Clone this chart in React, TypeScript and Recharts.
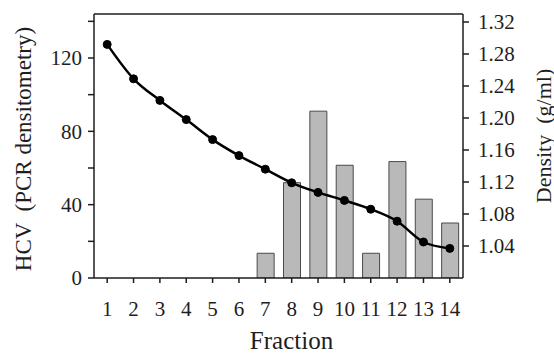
import React from 'react';
import {
  ComposedChart,
  Bar,
  Line,
  XAxis,
  YAxis,
  ReferenceLine,
  Label,
} from 'recharts';

// values
const fractions = [1, 2, 3, 4, 5, 6, 7, 8, 9, 10, 11, 12, 13, 14];
const hcvValues = [null, null, null, null, null, null, 13.5, 52, 91, 61.5, 13.5, 63.5, 43, 30];
const densityValues = [
  1.292, 1.249, 1.222, 1.198, 1.173, 1.153, 1.136, 1.119, 1.107, 1.097, 1.086, 1.071, 1.045, 1.037,
];
const hcvTicks = [0, 20, 40, 60, 80, 100, 120, 140];
const hcvLabelled = [0, 40, 80, 120];
const densityTicks = [1.04, 1.08, 1.12, 1.16, 1.2, 1.24, 1.28, 1.32];

const data = fractions.map((f, i) => ({
  fraction: f,
  hcv: hcvValues[i],
  density: densityValues[i],
}));

const ink = '#1e1e1e';
const serif = 'Liberation Serif, DejaVu Serif, serif';

const tickStyle = { fill: ink, fontSize: 21, fontFamily: serif, style: { fontFamily: serif } };

const titleStyle = (size: number): React.CSSProperties => ({
  fontFamily: serif,
  fontSize: size,
  whiteSpace: 'pre',
});

const leftTitle = (props: any) => {
  const vb = props.viewBox || { x: 0, y: 14, width: 94, height: 264 };
  const x = vb.x + 23;
  const y = vb.y + vb.height / 2 + 3;
  return (
    <text
      x={x}
      y={y}
      transform={`rotate(-90, ${x}, ${y})`}
      textAnchor="middle"
      dominantBaseline="central"
      fill={ink}
      style={titleStyle(23)}
    >
      {'HCV  (PCR densitometry)'}
    </text>
  );
};

const rightTitle = (props: any) => {
  const vb = props.viewBox || { x: 463, y: 14, width: 91, height: 264 };
  const x = vb.x + 80;
  const y = vb.y + vb.height / 2 - 10;
  return (
    <text
      x={x}
      y={y}
      transform={`rotate(-90, ${x}, ${y})`}
      textAnchor="middle"
      dominantBaseline="central"
      fill={ink}
      style={titleStyle(22)}
    >
      {'Density  (g/ml)'}
    </text>
  );
};

const bottomTitle = (props: any) => {
  const vb = props.viewBox || { x: 94, y: 278, width: 369, height: 77 };
  return (
    <text
      x={vb.x + vb.width / 2 + 13}
      y={vb.y + 71}
      textAnchor="middle"
      fill={ink}
      style={titleStyle(25)}
    >
      Fraction
    </text>
  );
};

export default function App() {
  return (
    <div style={{ position: 'absolute', left: 0, top: 0, background: '#fff' }}>
      <ComposedChart
        width={554}
        height={355}
        data={data}
        margin={{ top: 14, right: 0, bottom: 0, left: 0 }}
      >
        <XAxis
          dataKey="fraction"
          height={77}
          interval={0}
          tick={tickStyle}
          tickSize={5}
          tickMargin={18}
          axisLine={{ stroke: ink, strokeWidth: 1.5 }}
          tickLine={{ stroke: ink, strokeWidth: 1.5 }}
          label={<Label content={bottomTitle} />}
        />
        <YAxis
          yAxisId="left"
          orientation="left"
          width={94}
          domain={[0, 144]}
          allowDataOverflow
          ticks={hcvTicks}
          interval={0}
          tickFormatter={(v: number) => (hcvLabelled.includes(v) ? String(v) : '')}
          tick={tickStyle}
          tickSize={6}
          tickMargin={6}
          axisLine={{ stroke: ink, strokeWidth: 1.5 }}
          tickLine={{ stroke: ink, strokeWidth: 1.5 }}
          label={<Label content={leftTitle} />}
        />
        <YAxis
          yAxisId="right"
          orientation="right"
          width={91}
          domain={[1.0, 1.33]}
          allowDataOverflow
          ticks={densityTicks}
          interval={0}
          tickFormatter={(v: number) => v.toFixed(2)}
          tick={tickStyle}
          tickSize={6}
          tickMargin={9}
          axisLine={{ stroke: ink, strokeWidth: 1.5 }}
          tickLine={{ stroke: ink, strokeWidth: 1.5 }}
          label={<Label content={rightTitle} />}
        />
        <ReferenceLine yAxisId="left" y={144} stroke={ink} strokeWidth={1.5} />
        <Bar
          yAxisId="left"
          dataKey="hcv"
          barSize={17}
          fill="#b9b9b9"
          stroke="#4a4a4a"
          strokeWidth={1}
          isAnimationActive={false}
        />
        <Line
          yAxisId="right"
          dataKey="density"
          type="monotone"
          stroke="#000"
          strokeWidth={2.5}
          dot={{ r: 4, fill: '#000', stroke: '#000', strokeWidth: 1 }}
          activeDot={false}
          isAnimationActive={false}
        />
      </ComposedChart>
    </div>
  );
}
